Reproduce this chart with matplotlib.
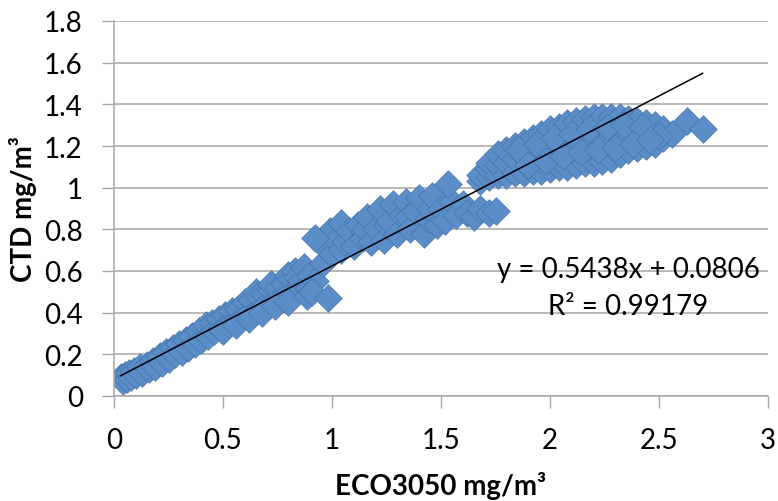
"""
plot.py
Scatter of CTD vs ECO3050 chlorophyll with linear trendline (Excel style).
"""

import numpy as np
import matplotlib
matplotlib.use("Agg")
import matplotlib.pyplot as plt

# ── Data ─────────────────────────────────────────────────────────────────────

# lower band, 0–0.9 mg/m3
eco_low = [0.03, 0.04, 0.05, 0.06, 0.07, 0.08, 0.09, 0.10, 0.12, 0.13,
           0.15, 0.16, 0.18, 0.19, 0.21, 0.22, 0.24, 0.25, 0.27, 0.28,
           0.30, 0.31, 0.33, 0.34, 0.36, 0.37, 0.39, 0.40, 0.42, 0.43,
           0.45, 0.46, 0.48, 0.49, 0.51, 0.52, 0.54, 0.55, 0.57, 0.58,
           0.60, 0.61, 0.63, 0.64, 0.65, 0.66, 0.67, 0.69, 0.70, 0.72,
           0.72, 0.73, 0.75, 0.76, 0.78, 0.79, 0.80, 0.81, 0.82, 0.83,
           0.84, 0.85, 0.86, 0.87, 0.88, 0.89, 0.90, 0.92,
           0.50, 0.56, 0.62, 0.68, 0.74, 0.80]
ctd_low = [0.09, 0.07, 0.10, 0.08, 0.11, 0.09, 0.12, 0.10, 0.14, 0.11,
           0.15, 0.13, 0.17, 0.14, 0.19, 0.16, 0.21, 0.18, 0.23, 0.20,
           0.25, 0.21, 0.27, 0.23, 0.29, 0.25, 0.31, 0.27, 0.34, 0.29,
           0.35, 0.31, 0.37, 0.32, 0.39, 0.34, 0.41, 0.36, 0.42, 0.37,
           0.45, 0.39, 0.46, 0.40, 0.50, 0.48, 0.42, 0.49, 0.44, 0.51,
           0.54, 0.45, 0.52, 0.47, 0.54, 0.48, 0.58, 0.56, 0.50, 0.60,
           0.57, 0.52, 0.55, 0.62, 0.53, 0.52, 0.58, 0.55,
           0.31, 0.34, 0.37, 0.40, 0.43, 0.45]

# middle band, 1–1.7 mg/m3
eco_mid = [0.96, 0.98, 0.99, 1.00, 1.02, 1.04, 1.04, 1.06, 1.08, 1.10,
           1.12, 1.14, 1.15, 1.16, 1.18, 1.20, 1.22, 1.24, 1.25, 1.26,
           1.28, 1.30, 1.32, 1.34, 1.35, 1.36, 1.38, 1.40, 1.42, 1.44,
           1.45, 1.46, 1.48, 1.50, 1.52, 1.55, 1.57, 1.60, 1.62, 1.65,
           1.68, 1.72]
ctd_mid = [0.64, 0.70, 0.79, 0.68, 0.75, 0.83, 0.70, 0.74, 0.79, 0.72,
           0.82, 0.76, 0.80, 0.86, 0.74, 0.80, 0.90, 0.75, 0.82, 0.84,
           0.92, 0.78, 0.87, 0.93, 0.86, 0.80, 0.89, 0.95, 0.78, 0.85,
           0.90, 0.96, 0.82, 0.90, 0.84, 0.93, 0.87, 0.92, 0.88, 0.86,
           0.90, 0.88]

# upper band, 1.7–2.7 mg/m3
eco_high = [1.68, 1.68,
            1.72, 1.72, 1.72, 1.76, 1.76, 1.76, 1.80, 1.80, 1.80,
            1.84, 1.84, 1.84, 1.88, 1.88, 1.88, 1.92, 1.92, 1.92,
            1.96, 1.96, 1.96, 2.00, 2.00, 2.00, 2.04, 2.04, 2.04,
            2.08, 2.08, 2.08, 2.12, 2.12, 2.12, 2.16, 2.16, 2.16,
            2.20, 2.20, 2.20, 2.24, 2.24, 2.24, 2.28, 2.28, 2.28,
            2.32, 2.32, 2.32, 2.36, 2.36, 2.36, 2.40, 2.40, 2.40,
            2.44, 2.44, 2.44, 2.48, 2.48, 2.48,
            2.52, 2.52, 2.56, 2.63, 2.70,
            1.86, 1.94, 2.02, 2.10, 2.18, 2.26, 2.34, 2.42, 2.50,
            1.90, 1.98, 2.06, 2.14, 2.22, 2.30, 2.38, 2.46]
ctd_high = [1.03, 1.06,
            1.05, 1.09, 1.12, 1.06, 1.11, 1.16, 1.06, 1.12, 1.18,
            1.07, 1.14, 1.20, 1.07, 1.15, 1.22, 1.08, 1.16, 1.24,
            1.08, 1.18, 1.26, 1.09, 1.19, 1.28, 1.10, 1.20, 1.29,
            1.10, 1.21, 1.31, 1.11, 1.22, 1.32, 1.12, 1.23, 1.33,
            1.12, 1.24, 1.34, 1.13, 1.24, 1.34, 1.14, 1.25, 1.34,
            1.16, 1.25, 1.34, 1.18, 1.26, 1.33, 1.19, 1.26, 1.32,
            1.20, 1.27, 1.31, 1.21, 1.27, 1.30,
            1.24, 1.28, 1.26, 1.32, 1.28,
            1.18, 1.21, 1.24, 1.26, 1.28, 1.29, 1.30, 1.29, 1.25,
            1.11, 1.13, 1.15, 1.17, 1.18, 1.19, 1.21, 1.23]

# isolated points
eco_out = [0.885, 0.91, 0.92, 0.98, 1.53, 1.75]
ctd_out = [0.48, 0.50, 0.76, 0.47, 1.02, 0.89]

# trendline as printed on the chart
SLOPE = 0.5438
INTERCEPT = 0.0806
R2_TEXT = "0.99179"

X_TICKS = [0, 0.5, 1, 1.5, 2, 2.5, 3]
X_TICK_LABELS = ["0", "0.5", "1", "1.5", "2", "2.5", "3"]
Y_TICKS = [0, 0.2, 0.4, 0.6, 0.8, 1.0, 1.2, 1.4, 1.6, 1.8]
Y_TICK_LABELS = ["0", "0.2", "0.4", "0.6", "0.8", "1", "1.2", "1.4", "1.6", "1.8"]

MARKER_FILL = "#5B8DC8"
MARKER_EDGE = "#416FA6"
GRID_GRAY = "#A6A6A6"


# ── Chart ─────────────────────────────────────────────────────────────────────

def plot(out_path: str) -> None:
    plt.rcParams["font.family"] = ["Lato", "DejaVu Sans"]

    x = np.array(eco_low + eco_mid + eco_high + eco_out)
    y = np.array(ctd_low + ctd_mid + ctd_high + ctd_out)

    fig = plt.figure(figsize=(7.78, 5.02), dpi=100)
    fig.patch.set_facecolor("white")
    ax = fig.add_axes([114 / 778, 105 / 502, 654 / 778, 375 / 502])

    ax.scatter(x, y, marker="D", s=200, color=MARKER_FILL,
               edgecolors=MARKER_EDGE, linewidths=0.4, zorder=2)

    # Linear trendline over the data range
    xt = np.array([x.min(), x.max()])
    ax.plot(xt, SLOPE * xt + INTERCEPT, color="black", lw=1.1, zorder=3)

    ax.text(2.358, 0.61, f"y = {SLOPE}x + {INTERCEPT}",
            ha="center", va="center", fontsize=20, zorder=4)
    ax.text(2.358, 0.43, f"R² = {R2_TEXT}",
            ha="center", va="center", fontsize=20, zorder=4)

    # Axes formatting
    ax.set_xlim(0, 3)
    ax.set_ylim(0, 1.8)
    ax.set_xticks(X_TICKS)
    ax.set_xticklabels(X_TICK_LABELS, fontsize=20)
    ax.set_yticks(Y_TICKS)
    ax.set_yticklabels(Y_TICK_LABELS, fontsize=20)
    ax.tick_params(axis="both", direction="out", length=8.5, width=1,
                   color=GRID_GRAY)
    ax.tick_params(axis="x", pad=14)
    ax.tick_params(axis="y", pad=14)

    ax.yaxis.grid(True, color=GRID_GRAY, linewidth=1.1, zorder=0)
    ax.set_axisbelow(True)
    for side in ("top", "right"):
        ax.spines[side].set_visible(False)
    for side in ("left", "bottom"):
        ax.spines[side].set_color(GRID_GRAY)
        ax.spines[side].set_linewidth(1.1)

    ax.set_xlabel("ECO3050 mg/m³", fontsize=20, fontweight="bold", labelpad=13)
    ax.set_ylabel("CTD mg/m³", fontsize=20, fontweight="bold", labelpad=5)

    fig.savefig(out_path, dpi=100, facecolor="white")
    print(f"Saved → {out_path}")


if __name__ == "__main__":
    plot("out.png")
